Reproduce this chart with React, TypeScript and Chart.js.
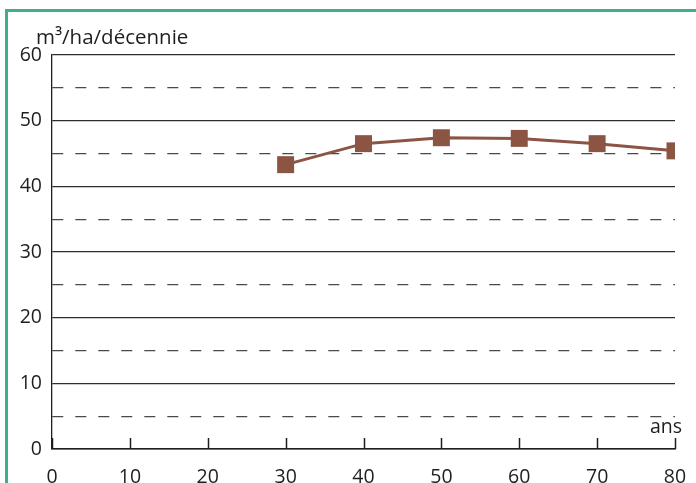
import React, { useEffect, useRef } from "react";
import { Chart, registerables } from "chart.js";

Chart.register(...registerables);

// Age of the stand (years) and mean volume increment (m³/ha/décennie)
const ages = [30, 40, 50, 60, 70, 80];
const increments = [43.3, 46.5, 47.4, 47.3, 46.5, 45.4];
const xTicks = [0, 10, 20, 30, 40, 50, 60, 70, 80];

const yTitle = "m³/ha/décennie";
const xTitle = "ans";

const FONT = "'Open Sans', 'Noto Sans', sans-serif";
const BROWN = "#8b5443";
const INK = "#1e1e1e";

// Short tick marks pointing up from the x axis, plus the axis captions
const decorations = {
  id: "decorations",
  afterDraw(chart: any) {
    const { ctx, chartArea, scales } = chart;
    const x = scales.x;
    ctx.save();
    ctx.strokeStyle = INK;
    ctx.lineWidth = 1.5;
    for (const v of xTicks) {
      const px = Math.round(x.getPixelForValue(v)) + 0.5;
      ctx.beginPath();
      ctx.moveTo(px, chartArea.bottom);
      ctx.lineTo(px, chartArea.bottom - 11);
      ctx.stroke();
    }
    ctx.fillStyle = INK;
    ctx.font = `20.5px ${FONT}`;
    ctx.textBaseline = "middle";
    ctx.textAlign = "left";
    ctx.fillText(yTitle, chartArea.left - 16, chartArea.top - 17);
    ctx.textAlign = "right";
    ctx.font = `19.5px ${FONT}`;
    ctx.fillText(xTitle, chartArea.right + 7, chartArea.bottom - 22);
    ctx.restore();
  },
};

export default function App() {
  const ref = useRef<HTMLCanvasElement | null>(null);

  useEffect(() => {
    if (!ref.current) return;
    const chart = new Chart(ref.current, {
      type: "line",
      data: {
        datasets: [
          {
            data: ages.map((a, i) => ({ x: a, y: increments[i] })),
            borderColor: BROWN,
            backgroundColor: BROWN,
            borderWidth: 3,
            pointStyle: "rect",
            pointRadius: 12,
            pointBorderWidth: 0,
            tension: 0,
          },
        ],
      },
      options: {
        responsive: false,
        animation: false,
        layout: { padding: { top: 55, right: 21, left: 0, bottom: 0 } },
        plugins: { legend: { display: false }, tooltip: { enabled: false } },
        scales: {
          x: {
            type: "linear",
            min: 0,
            max: 80,
            afterBuildTicks: (s: any) => {
              s.ticks = xTicks.map((v) => ({ value: v }));
            },
            afterFit: (s: any) => {
              s.height = 34;
              s.paddingLeft = 0;
              s.paddingRight = 0;
            },
            grid: { display: false, drawTicks: false },
            border: { display: true, color: INK, width: 1.5 },
            ticks: {
              color: INK,
              font: { family: FONT, size: 19.5 },
              padding: 17,
              maxRotation: 0,
            },
          },
          y: {
            min: 0,
            max: 60,
            afterFit: (s: any) => {
              s.width = 52;
              s.paddingTop = 0;
              s.paddingBottom = 0;
            },
            ticks: {
              stepSize: 5,
              color: INK,
              font: { family: FONT, size: 19.5 },
              padding: 10,
              callback: (v: any) => (Number(v) % 10 === 0 ? String(v) : ""),
            },
            grid: {
              drawTicks: false,
              color: (c: any) => {
                const v = c.tick ? c.tick.value : 0;
                if (v === 0) return INK;
                return v % 10 === 0 ? "#2e2e2e" : "#4a4a4a";
              },
              lineWidth: 1.2,
            },
            border: {
              display: true,
              color: INK,
              width: 1.3,
              dash: (c: any) => {
                const v = c.tick ? c.tick.value : 0;
                return v % 10 === 0 ? [] : [11, 12];
              },
            },
          },
        },
      },
      plugins: [decorations],
    });
    return () => chart.destroy();
  }, []);

  return (
    <div
      style={{
        position: "fixed",
        left: 0,
        top: 0,
        width: 696,
        height: 483,
        overflow: "hidden",
        background: "#ffffff",
      }}
    >
      <div
        style={{
          position: "absolute",
          left: 5,
          top: 9,
          width: 900,
          height: 700,
          border: "3px solid #3daf8a",
        }}
      />
      <canvas
        ref={ref}
        width={696}
        height={483}
        style={{ position: "absolute", left: 0, top: 0 }}
      />
    </div>
  );
}
